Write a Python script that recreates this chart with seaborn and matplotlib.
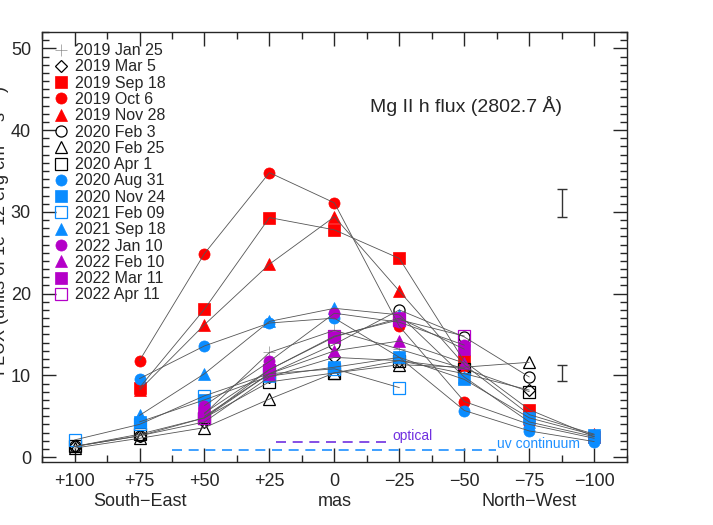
"""
Mg II h flux along the jet axis for each epoch (South-East to North-West).
Writes out.png
"""
import numpy as np
import pandas as pd
import matplotlib
matplotlib.use("Agg")
import matplotlib.pyplot as plt
from matplotlib.ticker import MultipleLocator, FixedLocator
import seaborn as sns

# -------- Data --------
offsets = [100, 75, 50, 25, 0, -25, -50, -75, -100]
tick_labels = ["+100", "+75", "+50", "+25", "0", "\u221225", "\u221250", "\u221275", "\u2212100"]
nan = np.nan

epochs = ["2019 Jan 25", "2019 Mar 5", "2019 Sep 18", "2019 Oct 6", "2019 Nov 28",
          "2020 Feb 3", "2020 Feb 25", "2020 Apr 1", "2020 Aug 31", "2020 Nov 24",
          "2021 Feb 09", "2021 Sep 18", "2022 Jan 10", "2022 Feb 10", "2022 Mar 11",
          "2022 Apr 11"]

flux_2019_jan25 = [nan, nan, 5.3, 12.8, 15.5, 13.2, 10.8, nan, nan]
flux_2019_mar5 = [1.3, 2.6, 4.3, 9.8, 12.2, 11.8, 10.2, 8.2, nan]
flux_2019_sep18 = [nan, 8.5, 18.1, 29.3, 27.8, 24.3, 11.7, 5.8, 2.5]
flux_2019_oct6 = [nan, 11.8, 24.9, 34.8, 31.1, 16.0, 6.8, 4.0, 2.3]
flux_2019_nov28 = [nan, 8.2, 16.2, 23.6, 29.4, 20.3, 11.3, 5.2, 2.8]
flux_2020_feb3 = [1.3, 2.6, 4.8, 10.2, 13.8, 18.0, 14.7, 9.8, nan]
flux_2020_feb25 = [1.1, 2.3, 3.6, 7.1, 10.3, 11.3, 11.0, 11.6, nan]
flux_2020_apr1 = [1.3, 2.8, 4.8, 9.2, 10.3, 11.8, 10.8, 8.0, nan]
flux_2020_aug31 = [nan, 9.6, 13.6, 16.4, 17.0, 12.2, 5.7, 3.2, 1.9]
flux_2020_nov24 = [nan, 4.3, 7.0, 9.9, 11.0, 12.2, 9.5, 4.8, 2.7]
flux_2021_feb09 = [2.1, 4.0, 7.5, 10.2, 10.8, 8.5, nan, nan, nan]
flux_2021_sep18 = [nan, 5.1, 10.2, 16.6, 18.2, 17.4, 9.8, 4.3, 2.5]
flux_2022_jan10 = [nan, nan, 6.3, 11.7, 17.6, 16.5, 13.7, nan, nan]
flux_2022_feb10 = [nan, nan, 5.0, 10.2, 13.0, 14.2, 11.5, nan, nan]
flux_2022_mar11 = [nan, nan, 5.4, 10.7, 14.7, 17.0, 13.2, nan, nan]
flux_2022_apr11 = [nan, nan, 4.8, 10.7, 14.8, 16.8, 14.8, nan, nan]

all_flux = [flux_2019_jan25, flux_2019_mar5, flux_2019_sep18, flux_2019_oct6,
            flux_2019_nov28, flux_2020_feb3, flux_2020_feb25, flux_2020_apr1,
            flux_2020_aug31, flux_2020_nov24, flux_2021_feb09, flux_2021_sep18,
            flux_2022_jan10, flux_2022_feb10, flux_2022_mar11, flux_2022_apr11]

# typical uncertainties (bright and faint knots)
err_x = [-87.5, -87.5]
err_y = [31.05, 10.3]
err_size = [1.7, 1.0]

# resolution indicators
optical_x = [22.5, -22.0]
optical_y = [1.8, 1.8]
uv_x = [62.5, -62.0]
uv_y = [0.85, 0.85]

# -------- Styles --------
RED, BLUE, PURPLE, BLACK, GREY = "#ff0000", "#0a8cff", "#b400c8", "#000000", "#8c8c8c"
styles = [
    ("+", GREY, True), ("D", BLACK, False), ("s", RED, True), ("o", RED, True),
    ("^", RED, True), ("o", BLACK, False), ("^", BLACK, False), ("s", BLACK, False),
    ("o", BLUE, True), ("s", BLUE, True), ("s", BLUE, False), ("^", BLUE, True),
    ("o", PURPLE, True), ("^", PURPLE, True), ("s", PURPLE, True), ("s", PURPLE, False),
]

sns.set_style("ticks")
plt.rcParams["font.family"] = ["Liberation Sans", "DejaVu Sans"]

fig = plt.figure(figsize=(7.13, 5.25), dpi=100)
ax = fig.add_axes([0.059, 0.12, 0.82, 0.819])

for name, flux, (mk, col, filled) in zip(epochs, all_flux, styles):
    df = pd.DataFrame({"offset": offsets, "flux": flux}).dropna()
    ms = 8.5 if mk == "+" else (6.0 if mk == "D" else 8.0)
    sns.lineplot(data=df, x="offset", y="flux", ax=ax, sort=False, estimator=None,
                 linestyle="", marker=mk, markersize=ms,
                 markerfacecolor=col if filled else "none",
                 markeredgecolor=col, markeredgewidth=0.9 if not filled else 0.5,
                 color=col, label=name, zorder=3)
    sns.lineplot(data=df, x="offset", y="flux", ax=ax, sort=False, estimator=None,
                 color="#555555", linewidth=0.6, legend=False, zorder=4)

ax.errorbar(err_x, err_y, yerr=err_size, fmt="none", ecolor="#333333",
            elinewidth=1.0, capsize=3.5, capthick=1.0)

ax.plot(optical_x, optical_y, color="#7030e0", linestyle=(0, (6, 4)), linewidth=1.2)
ax.text(-22.5, optical_y[0] + 0.8, "optical", color="#7030e0", fontsize=10,
        ha="left", va="center")
ax.plot(uv_x, uv_y, color="#1e90ff", linestyle=(0, (6, 4)), linewidth=1.2)
ax.text(-62.5, uv_y[0] + 0.8, "uv continuum", color="#1e90ff", fontsize=10,
        ha="left", va="center")

ax.text(-50.5, 43.0, "Mg II h flux (2802.7 \u00c5)", fontsize=14, ha="center", va="center")

# -------- Axes --------
ax.set_xlim(112.5, -112.5)
ax.set_ylim(-0.6, 52)
ax.xaxis.set_major_locator(FixedLocator(offsets))
ax.set_xticklabels(tick_labels)
ax.xaxis.set_minor_locator(MultipleLocator(12.5))
ax.yaxis.set_major_locator(MultipleLocator(10))
ax.yaxis.set_minor_locator(MultipleLocator(1))
ax.tick_params(which="both", direction="in", top=True, right=True, width=1.0)
ax.tick_params(which="major", length=10, labelsize=13, pad=8)
ax.tick_params(which="minor", length=5)
for sp in ax.spines.values():
    sp.set_linewidth(1.0)
ax.set_xlabel("")
ax.set_ylabel("")

for xpos, lab in [(75, "South\u2212East"), (0, "mas"), (-75, "North\u2212West")]:
    ax.text(xpos, -0.092, lab, transform=ax.get_xaxis_transform(), fontsize=13,
            ha="center", va="center")

fig.text(0.0, 0.56, "FLUX (units of 1e\u221212 erg cm$^{-2}$ s$^{-1}$)", rotation=90,
         fontsize=13, ha="center", va="center")

ax.legend(loc="upper left", bbox_to_anchor=(0.0, 1.0), frameon=False, fontsize=11.5,
          labelspacing=0.08, handlelength=1.0, handletextpad=0.35, borderpad=0.3,
          borderaxespad=0.4)

fig.savefig("out.png", dpi=100)
